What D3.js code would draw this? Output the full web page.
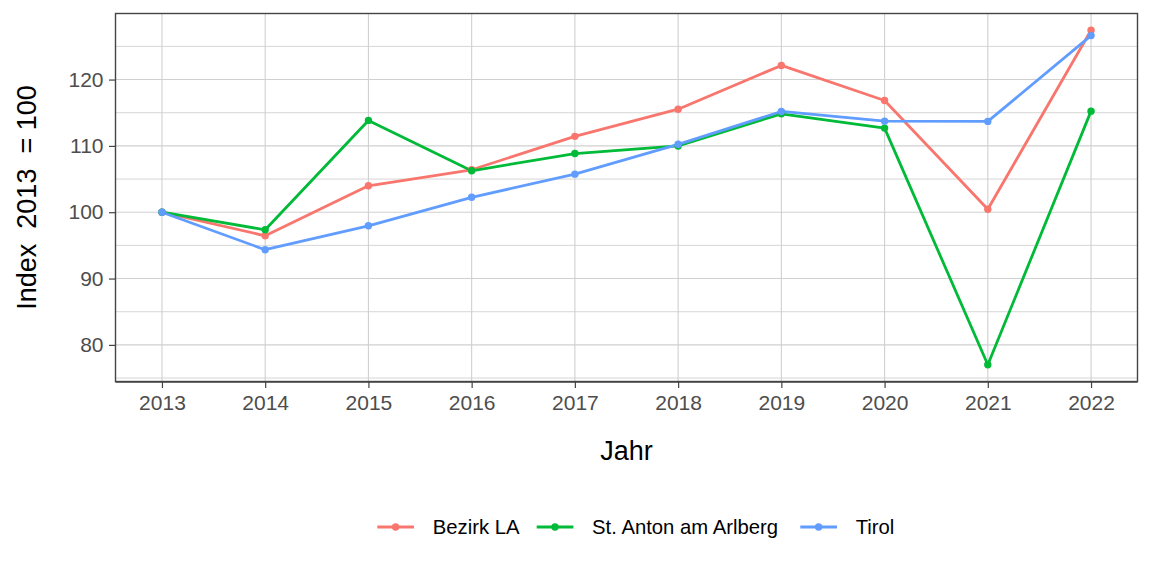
<!DOCTYPE html>
<html><head><meta charset="utf-8">
<script src="https://cdn.jsdelivr.net/npm/d3@7"></script>
<style>body{margin:0;background:#fff}svg{display:block}text{font-family:"Liberation Sans",Arial,sans-serif}</style>
</head><body><svg id="c" width="1152" height="576"></svg>
<script>
const years = [2013,2014,2015,2016,2017,2018,2019,2020,2021,2022];
const seriesNames = ["Bezirk LA","St. Anton am Arlberg","Tirol"];
const bezirkLA = [100,96.45,103.99,106.4,111.44,115.53,122.13,116.84,100.45,127.44];
const stAnton = [100,97.35,113.84,106.25,108.85,109.99,114.84,112.68,77.0,115.24];
const tirol = [100,94.35,97.95,102.25,105.74,110.24,115.19,113.73,113.69,126.63];
const colors = ["#F8766D","#00BA38","#619CFF"];
const yTicks = [80,90,100,110,120];
const yMinor = [75,85,95,105,115,125];

const svg = d3.select("#c");
const L=115.5, R=1137.5, T=13.5, B=381.5;
const x = d3.scaleLinear().domain([2012.55,2022.45]).range([L,R]);
const y = d3.scaleLinear().domain([74.48,129.96]).range([B,T]);

const grid = svg.append("g");
grid.selectAll(".ym").data(yMinor).join("line").attr("x1",L).attr("x2",R)
  .attr("y1",d=>y(d)).attr("y2",d=>y(d)).attr("stroke","#d6d6d6").attr("stroke-width",1);
grid.selectAll(".yM").data(yTicks).join("line").attr("x1",L).attr("x2",R)
  .attr("y1",d=>y(d)).attr("y2",d=>y(d)).attr("stroke","#d0d0d0").attr("stroke-width",1.1);
grid.selectAll(".xM").data(years).join("line").attr("y1",T).attr("y2",B)
  .attr("x1",d=>x(d)).attr("x2",d=>x(d)).attr("stroke","#d0d0d0").attr("stroke-width",1.1);

const data = [bezirkLA, stAnton, tirol];
const line = d3.line().x((d,i)=>x(years[i])).y(d=>y(d));
data.forEach((s,k)=>{
  svg.append("path").datum(s).attr("d",line).attr("fill","none")
    .attr("stroke",colors[k]).attr("stroke-width",2.8).attr("stroke-linejoin","round");
});
data.forEach((s,k)=>{
  svg.append("g").selectAll("circle").data(s).join("circle")
    .attr("cx",(d,i)=>x(years[i])).attr("cy",d=>y(d)).attr("r",3.7).attr("fill",colors[k]);
});

// panel border
svg.append("rect").attr("x",L).attr("y",T).attr("width",R-L).attr("height",B-T)
  .attr("fill","none").attr("stroke","#444").attr("stroke-width",1.4);
svg.append("line").attr("x1",L).attr("x2",R).attr("y1",B+0.5).attr("y2",B+0.5)
  .attr("stroke","#444").attr("stroke-width",1.6);

// axes
const xAxis = svg.append("g").attr("transform",`translate(0,${B})`)
  .call(d3.axisBottom(x).tickValues(years).tickFormat(d3.format("d")).tickSize(6.5).tickPadding(6));
const yAxis = svg.append("g").attr("transform",`translate(${L},0)`)
  .call(d3.axisLeft(y).tickValues(yTicks).tickSize(6.5).tickPadding(5));
[xAxis,yAxis].forEach(a=>{
  a.select(".domain").remove();
  a.selectAll(".tick line").attr("stroke","#444").attr("stroke-width",1.2);
  a.selectAll(".tick text").attr("fill","#4d4d4d").style("font-size","21px")
   .style("font-family","'Liberation Sans',Arial,sans-serif");
});
xAxis.selectAll(".tick text").attr("dy","0.71em").attr("y",14);
yAxis.selectAll(".tick text").attr("x",-12);

svg.append("text").attr("x",(L+R)/2).attr("y",460).attr("text-anchor","middle")
  .style("font-size","27px").attr("fill","#000").text("Jahr");
svg.append("text").attr("transform",`translate(36,${(T+B)/2}) rotate(-90)`).attr("text-anchor","middle")
  .style("font-size","27px").attr("fill","#000").style("white-space","pre").attr("xml:space","preserve")
  .text("Index  2013  = 100");

// legend
const legX = [377.3,536.7,800.3];
const lg = svg.append("g");
seriesNames.forEach((n,k)=>{
  const g = lg.append("g").attr("transform",`translate(${legX[k]},527)`);
  g.append("line").attr("x1",0).attr("x2",36.7).attr("stroke",colors[k]).attr("stroke-width",2.8);
  g.append("circle").attr("cx",18.3).attr("r",3.7).attr("fill",colors[k]);
  g.append("text").attr("x",55.4).attr("dy","0.35em").style("font-size","20.3px").attr("fill","#000").text(n);
});
</script></body></html>
